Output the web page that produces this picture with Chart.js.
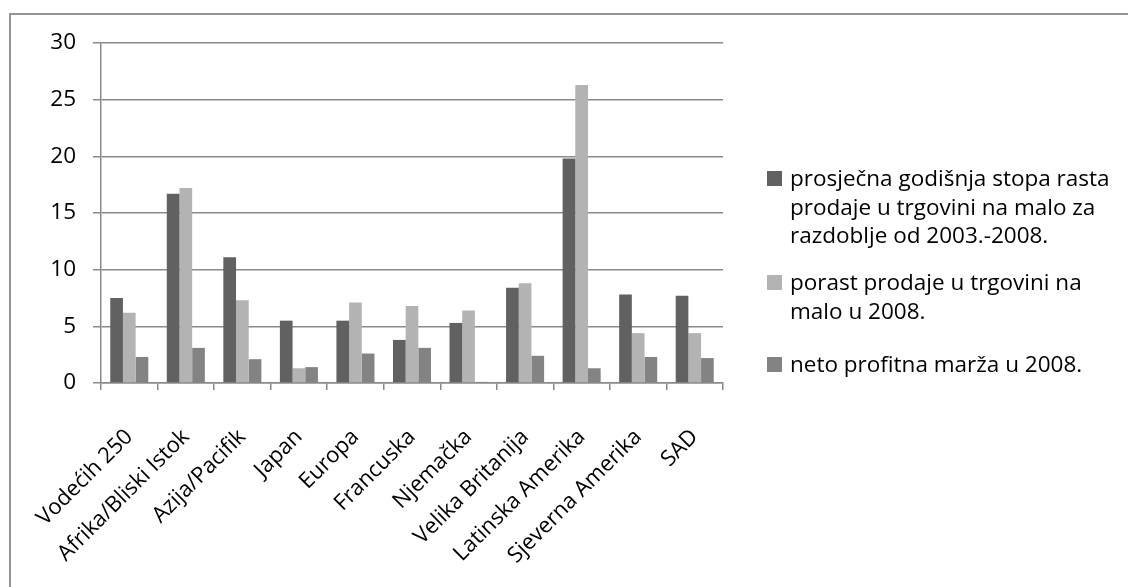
<!DOCTYPE html>
<html>
<head>
<meta charset="utf-8">
<title>Prodaja u trgovini na malo</title>
<script src="https://cdn.jsdelivr.net/npm/chart.js@4.4.1/dist/chart.umd.min.js"></script>
<style>
  html, body { margin: 0; padding: 0; background: #fff; overflow: hidden; }
  canvas { display: block; }
</style>
</head>
<body>
<canvas id="chart" width="1128" height="587"></canvas>
<script>
// Regions
const categories = [
  'Vodećih 250', 'Afrika/Bliski Istok', 'Azija/Pacifik', 'Japan', 'Europa',
  'Francuska', 'Njemačka', 'Velika Britanija', 'Latinska Amerika',
  'Sjeverna Amerika', 'SAD'
];

// Average annual retail sales growth 2003-2008 (%)
const avgGrowth = [7.5, 16.7, 11.1, 5.5, 5.5, 3.8, 5.3, 8.4, 19.8, 7.8, 7.7];
// Retail sales growth in 2008 (%)
const growth2008 = [6.2, 17.2, 7.3, 1.3, 7.1, 6.8, 6.4, 8.8, 26.3, 4.4, 4.4];
// Net profit margin in 2008 (%)
const margin2008 = [2.3, 3.1, 2.1, 1.4, 2.6, 3.1, 0.1, 2.4, 1.3, 2.3, 2.2];

// Legend entries, one array of lines per series
const seriesLines = [
  ['prosječna godišnja stopa rasta', 'prodaje u trgovini na malo za', 'razdoblje od 2003.-2008.'],
  ['porast prodaje u trgovini na', 'malo u 2008.'],
  ['neto profitna marža u 2008.']
];

// Value axis ticks
const yTicks = [0, 5, 10, 15, 20, 25, 30];

const seriesColors = ['#616161', '#b3b3b3', '#838383'];
const FONT = "'Open Sans', 'Noto Sans', sans-serif";
const FONT_SIZE = 22.5;
const AXIS_GRAY = '#8a8a8a';

// Outer frame around the chart object
const framePlugin = {
  id: 'frame',
  beforeDraw(chart) {
    const ctx = chart.ctx;
    ctx.save();
    ctx.fillStyle = '#ffffff';
    ctx.fillRect(0, 0, chart.width, chart.height);
    ctx.strokeStyle = '#959595';
    ctx.lineWidth = 2;
    ctx.strokeRect(10, 14, chart.width + 50, chart.height + 50);
    ctx.restore();
  }
};

// Legend on the right, with wrapped entries
const sideLegend = {
  id: 'sideLegend',
  afterDraw(chart) {
    const ctx = chart.ctx;
    const baselines = [[186, 214.5, 243], [290, 319], [372]];
    ctx.save();
    ctx.font = FONT_SIZE + 'px ' + FONT;
    ctx.textAlign = 'left';
    ctx.textBaseline = 'alphabetic';
    chart.data.datasets.forEach((ds, i) => {
      const lines = seriesLines[i];
      const b = baselines[i];
      ctx.fillStyle = ds.backgroundColor;
      ctx.fillRect(767, b[0] - 15, 15, 15);
      ctx.fillStyle = '#000';
      lines.forEach((line, j) => ctx.fillText(line, 790, b[j]));
    });
    ctx.restore();
  }
};

const datasets = [avgGrowth, growth2008, margin2008].map((values, i) => ({
  label: seriesLines[i].join(' '),
  data: values,
  backgroundColor: seriesColors[i],
  borderWidth: 0,
  categoryPercentage: 0.673,
  barPercentage: 1.0
}));

new Chart(document.getElementById('chart'), {
  type: 'bar',
  data: { labels: categories, datasets },
  options: {
    responsive: false,
    animation: false,
    devicePixelRatio: 1,
    layout: { padding: { top: 43, right: 405, left: 0, bottom: 0 } },
    plugins: {
      legend: { display: false },
      tooltip: { enabled: false }
    },
    scales: {
      x: {
        offset: true,
        grid: {
          offset: true,
          drawOnChartArea: false,
          drawTicks: true,
          tickLength: 7,
          color: AXIS_GRAY,
          lineWidth: 1.5
        },
        border: { display: true, color: AXIS_GRAY, width: 1.5 },
        ticks: {
          autoSkip: false,
          maxRotation: 45,
          minRotation: 45,
          color: '#000',
          padding: 34,
          font: { family: FONT, size: 22 }
        },
        afterFit(scale) { scale.height = 204; }
      },
      y: {
        min: 0,
        max: 30,
        afterBuildTicks(scale) { scale.ticks = yTicks.map(v => ({ value: v })); },
        grid: {
          color: AXIS_GRAY,
          lineWidth: 1.5,
          drawTicks: true,
          tickLength: 8
        },
        border: { display: true, color: AXIS_GRAY, width: 1.5 },
        ticks: {
          color: '#000',
          padding: 17,
          font: { family: FONT, size: FONT_SIZE }
        },
        afterFit(scale) { scale.width = 101; }
      }
    }
  },
  plugins: [framePlugin, sideLegend]
});
</script>
</body>
</html>
